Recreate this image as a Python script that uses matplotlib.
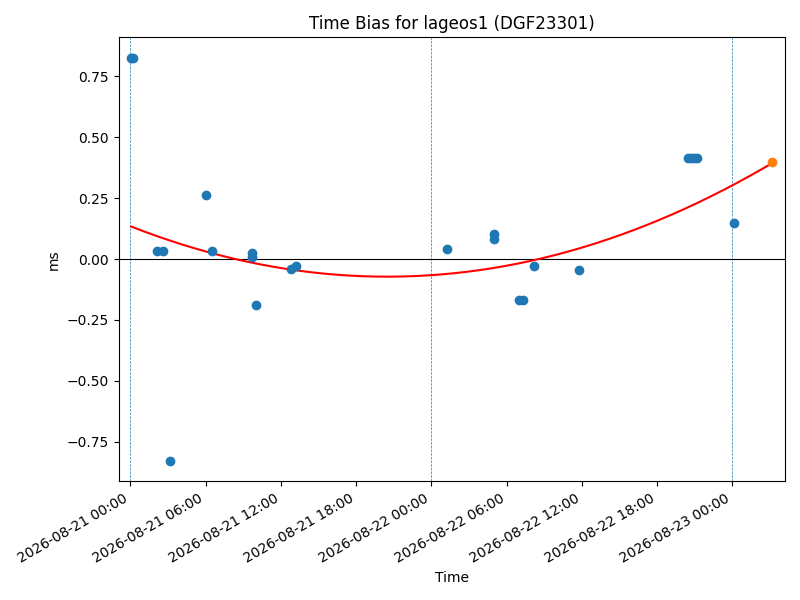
import matplotlib
matplotlib.use("Agg")
import matplotlib.pyplot as plt
import matplotlib.dates as mdates
import numpy as np
import pandas as pd

times = [
    "2026-08-21 00:04", "2026-08-21 00:11", "2026-08-21 02:07", "2026-08-21 02:35",
    "2026-08-21 03:08", "2026-08-21 06:02", "2026-08-21 06:31", "2026-08-21 09:43",
    "2026-08-21 09:43", "2026-08-21 10:01", "2026-08-21 12:47", "2026-08-21 13:11",
    "2026-08-22 01:17", "2026-08-22 04:58", "2026-08-22 04:58", "2026-08-22 07:01",
    "2026-08-22 07:20", "2026-08-22 08:10", "2026-08-22 11:45", "2026-08-22 20:28",
    "2026-08-22 20:41", "2026-08-22 20:55", "2026-08-22 21:09", "2026-08-23 00:08",
]
bias_ms = [
    0.828, 0.828, 0.034, 0.034,
    -0.831, 0.264, 0.034, 0.026,
    0.007, -0.187, -0.043, -0.027,
    0.041, 0.102, 0.082, -0.167,
    -0.167, -0.029, -0.045, 0.414,
    0.414, 0.414, 0.414, 0.149,
]
pred_time = "2026-08-23 03:12"
pred_ms = 0.398
day_lines = ["2026-08-21 00:00", "2026-08-22 00:00", "2026-08-23 00:00"]
# quadratic fit coefficients (ms vs hours since first observation)
fit_coef = [0.000495, -0.0202, 0.1335]

t = pd.to_datetime(times)
tp = pd.Timestamp(pred_time)

hours_end = (tp - t[0]) / pd.Timedelta(hours=1)
hf = np.linspace(0, hours_end, 200)
yf = np.polyval(fit_coef, hf)
tf = t[0] + pd.to_timedelta(hf, unit="h")

fig, ax = plt.subplots(figsize=(8, 6), dpi=100)
for d in day_lines:
    ax.axvline(pd.Timestamp(d), color="C0", linestyle="--", linewidth=0.5)
ax.axhline(0, color="black", linewidth=0.8)
ax.plot(tf, yf, color="red")
ax.scatter(t, bias_ms, color="C0", zorder=3)
ax.scatter([tp], [pred_ms], color="C1", zorder=3)
ax.set_xlim(t[0] - pd.Timedelta(hours=1), tp + pd.Timedelta(hours=1))
ax.xaxis.set_major_formatter(mdates.DateFormatter("%Y-%m-%d %H:%M"))
ax.set_title("Time Bias for lageos1 (DGF23301)")
ax.set_xlabel("Time")
ax.set_ylabel("ms")
fig.autofmt_xdate()
fig.tight_layout()
fig.savefig("out.png")
